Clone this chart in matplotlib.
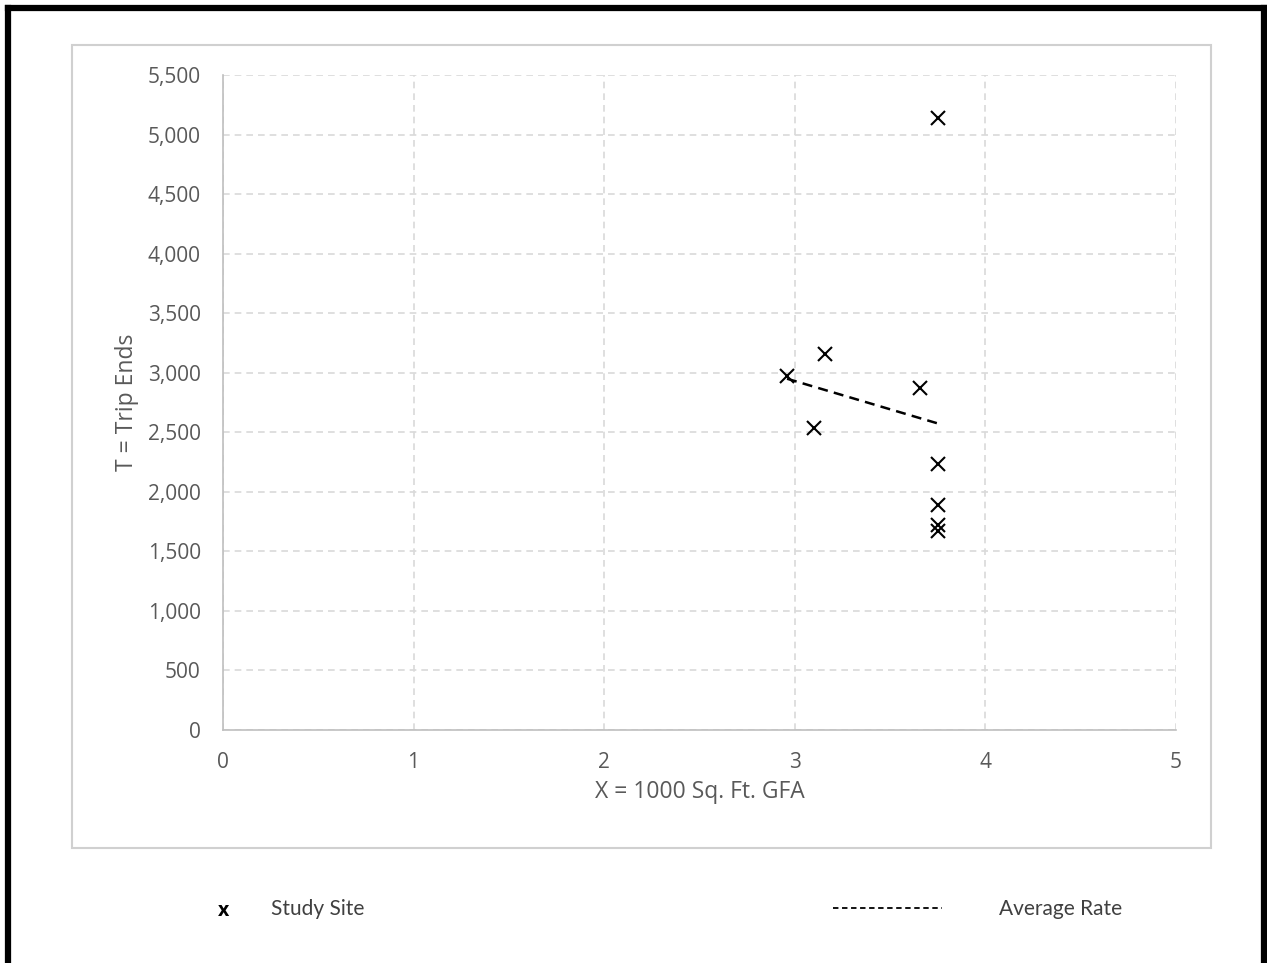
import matplotlib.pyplot as plt
from matplotlib.lines import Line2D
from matplotlib.patches import Rectangle

plt.rcParams['font.family'] = ['Open Sans', 'DejaVu Sans']

# study sites (x = 1000 sq ft GFA, t = trip ends)
site_x = [3.75, 3.16, 2.96, 3.66, 3.10, 3.75, 3.75, 3.75, 3.75]
site_t = [5140, 3160, 2970, 2870, 2540, 2230, 1890, 1720, 1670]

# average rate line
avg_x = [2.96, 3.75]
avg_t = [2950, 2575]

x_ticks = [0, 1, 2, 3, 4, 5]
y_ticks = list(range(0, 5501, 500))

grey_txt = '#595959'

fig = plt.figure(figsize=(12.67, 9.63), dpi=100)

# outer chart box
fig.patches.append(Rectangle((0.0568, 0.1194), 0.899, 0.834, transform=fig.transFigure,
                             fill=False, edgecolor='#d0d0d0', linewidth=1.5))

# thick black page frame
for xs, ys in [([0.0063, 0.0063], [0, 0.992]), ([0.998, 0.998], [0, 0.992]),
               ([0.0063, 0.998], [0.992, 0.992])]:
    fig.add_artist(Line2D(xs, ys, transform=fig.transFigure, color='black', linewidth=4.5))

ax = fig.add_axes([0.176, 0.242, 0.752, 0.680])
ax.plot(avg_x, avg_t, color='black', linestyle=(0, (4, 2.5)), linewidth=1.8)
ax.plot(site_x, site_t, linestyle='none', marker='x', markersize=10,
        markeredgewidth=1.5, color='black')

ax.set_xlim(0, 5)
ax.set_ylim(0, 5500)
ax.set_xticks(x_ticks)
ax.set_yticks(y_ticks)
ax.set_yticklabels([f'{v:,}' for v in y_ticks])
ax.grid(True, color='#d9d9d9', linestyle=(0, (4, 3)), linewidth=1.2)
ax.set_axisbelow(True)
for s in ['top', 'right']:
    ax.spines[s].set_visible(False)
for s in ['left', 'bottom']:
    ax.spines[s].set_color('#bfbfbf')
    ax.spines[s].set_linewidth(1.2)
ax.tick_params(length=0, labelsize=15, labelcolor=grey_txt)
ax.tick_params(axis='y', pad=16)
ax.tick_params(axis='x', pad=16)
ax.set_xlabel('X = 1000 Sq. Ft. GFA', fontsize=16.5, color=grey_txt, labelpad=5)
ax.set_ylabel('T = Trip Ends', fontsize=16.5, color=grey_txt, labelpad=6)

# legend row below the chart
fig.text(224 / 1267, 1 - 911 / 963, 'x', fontsize=14, fontweight='bold', ha='center', va='center')
fig.text(271 / 1267, 1 - 909 / 963, 'Study Site', fontsize=15, color='#404040', va='center',
         family='Lato')
fig.add_artist(Line2D([833 / 1267, 942 / 1267], [1 - 908 / 963] * 2, transform=fig.transFigure,
                      color='black', linestyle=(0, (3, 2)), linewidth=1.3))
fig.text(999 / 1267, 1 - 909 / 963, 'Average Rate', fontsize=15, color='#404040', va='center',
         family='Lato')

fig.savefig('out.png', dpi=100)
